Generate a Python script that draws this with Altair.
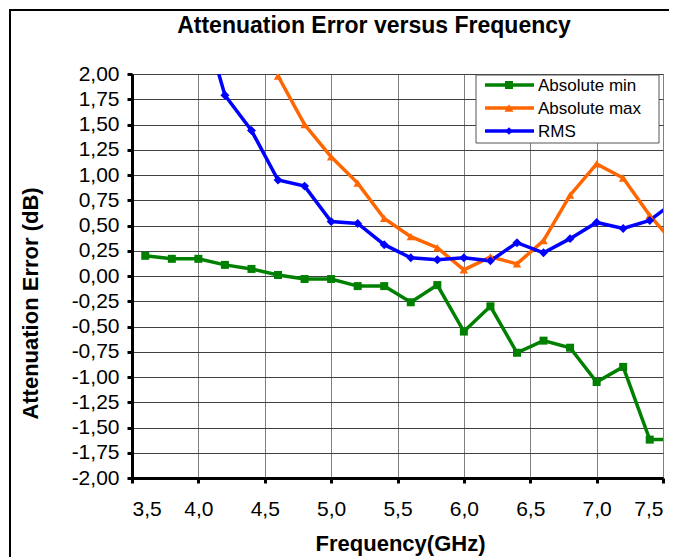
import altair as alt
import pandas as pd

# ---- data ----
freq = [3.6, 3.8, 4.0, 4.2, 4.4, 4.6, 4.8, 5.0, 5.2, 5.4, 5.6,
        5.8, 6.0, 6.2, 6.4, 6.6, 6.8, 7.0, 7.2, 7.4, 7.6]
abs_min = [0.20, 0.17, 0.17, 0.11, 0.07, 0.01, -0.03, -0.03, -0.10, -0.10, -0.26,
           -0.09, -0.55, -0.30, -0.76, -0.64, -0.71, -1.05, -0.90, -1.62, -1.62]
abs_max = [None, None, None, None, None, 1.98, 1.50, 1.18, 0.92, 0.57, 0.39,
           0.28, 0.06, 0.19, 0.12, 0.35, 0.80, 1.11, 0.97, 0.60, 0.30]
rms = [None, None, 2.70, 1.79, 1.44, 0.95, 0.89, 0.54, 0.52, 0.31, 0.18,
       0.16, 0.18, 0.15, 0.33, 0.23, 0.37, 0.53, 0.47, 0.55, 0.75]

series_names = ["Absolute min", "Absolute max", "RMS"]
series_colors = ["#008000", "#FF6600", "#0000FF"]
series_shapes = ["square", "triangle-up", "diamond"]
series_sizes = [64, 80, 60]

x_ticks = [3.5, 4.0, 4.5, 5.0, 5.5, 6.0, 6.5, 7.0, 7.5]
y_ticks = [-2.0, -1.75, -1.5, -1.25, -1.0, -0.75, -0.5, -0.25, 0.0,
           0.25, 0.5, 0.75, 1.0, 1.25, 1.5, 1.75, 2.0]

rows = []
for name, vals in zip(series_names, [abs_min, abs_max, rms]):
    for f, v in zip(freq, vals):
        if v is not None:
            rows.append({"freq": f, "value": v, "series": name})
df = pd.DataFrame(rows)

FONT = "Liberation Sans"
W, H = 531, 404

color_scale = alt.Scale(domain=series_names, range=series_colors)
shape_scale = alt.Scale(domain=series_names, range=series_shapes)
size_scale = alt.Scale(domain=series_names, range=series_sizes)

x_enc = alt.X(
    "freq:Q",
    scale=alt.Scale(domain=[3.5, 7.5], nice=False, zero=False),
    axis=alt.Axis(
        values=x_ticks,
        labelExpr="replace(format(datum.value, '.1f'), '.', ',')",
        labelOverlap=False,
        title="Frequency(GHz)",
        titleFont=FONT, titleFontSize=22, titleFontWeight="bold", titleColor="black",
        titleX=268, titleY=72, titleAlign="center", titleBaseline="alphabetic",
        labelFont=FONT, labelFontSize=21, labelColor="black", labelPadding=15,
        domainColor="black", domainWidth=3,
        tickColor="black", tickWidth=3, tickSize=5,
        grid=True, gridColor="#808080", gridWidth=1,
    ),
)
y_enc = alt.Y(
    "value:Q",
    scale=alt.Scale(domain=[-2, 2], nice=False, zero=False),
    axis=alt.Axis(
        values=y_ticks,
        labelExpr="replace(replace(format(datum.value, '.2f'), '.', ','), '\u2212', '-')",
        labelOverlap=False,
        title="Attenuation Error (dB)",
        titleFont=FONT, titleFontSize=22, titleFontWeight="bold", titleColor="black",
        titleAngle=270, titleX=-102, titleY=229, titleAlign="center",
        titleBaseline="middle",
        labelFont=FONT, labelFontSize=21, labelColor="black", labelPadding=8,
        domainColor="black", domainWidth=3,
        tickColor="black", tickWidth=3, tickSize=5,
        grid=True, gridColor="#404040", gridWidth=1,
    ),
)

base = alt.Chart(df).encode(
    x=x_enc, y=y_enc,
    color=alt.Color("series:N", scale=color_scale, legend=None),
)

lines = base.mark_line(strokeWidth=3.5, clip=True).encode(detail="series:N")
points = base.mark_point(filled=True, opacity=1, clip=True).encode(
    shape=alt.Shape("series:N", scale=shape_scale, legend=None),
    size=alt.Size("series:N", scale=size_scale, legend=None),
)

one = pd.DataFrame({"k": [0]})

# outer chart frame
frame = alt.Chart(one).mark_rect(fill=None, stroke="black", strokeWidth=2, clip=False).encode(
    x=alt.value(-122), x2=alt.value(560), y=alt.value(-64), y2=alt.value(600)
)

title = alt.Chart(one).mark_text(
    text="Attenuation Error versus Frequency", font=FONT, fontSize=23,
    fontWeight="bold", color="black", align="center", baseline="alphabetic",
).encode(x=alt.value(242), y=alt.value(-41))

# legend
legend_layers = [
    alt.Chart(one).mark_rect(fill="white", stroke="#555555", strokeWidth=1).encode(
        x=alt.value(344), x2=alt.value(527), y=alt.value(1), y2=alt.value(69)
    )
]
for i, (name, col, shp, sz) in enumerate(zip(series_names, series_colors, series_shapes, series_sizes)):
    yy = 11 + 23 * i
    legend_layers.append(
        alt.Chart(one).mark_rule(color=col, strokeWidth=3.5).encode(
            x=alt.value(353), x2=alt.value(402), y=alt.value(yy)
        )
    )
    legend_layers.append(
        alt.Chart(one).mark_point(filled=True, opacity=1, color=col, shape=shp, size=sz).encode(
            x=alt.value(377), y=alt.value(yy)
        )
    )
    legend_layers.append(
        alt.Chart(one).mark_text(
            text=name, font=FONT, fontSize=17, color="black", align="left", baseline="middle"
        ).encode(x=alt.value(406), y=alt.value(yy + 1))
    )

chart = alt.layer(frame, title, lines, points, *legend_layers).properties(
    width=W, height=H,
    autosize=alt.AutoSizeParams(type="none"),
    padding={"left": 124, "top": 66, "right": 6, "bottom": 80},
    background="white",
).configure_view(
    stroke="#808080", strokeWidth=1
).configure_axis(
    labelOverlap=False
)

chart.save("out.html", embed_options={"renderer": "svg", "actions": False})
